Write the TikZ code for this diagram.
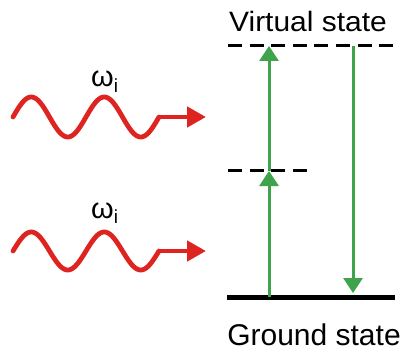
\documentclass[tikz,border=0pt]{standalone}
\usepackage{fontspec}
\setmainfont{Liberation Sans}
\usetikzlibrary{arrows.meta}
\definecolor{wavered}{RGB}{222,36,32}
\definecolor{transgreen}{RGB}{62,163,74}
\tikzset{
  wave/.style={wavered, line width=4.8pt, line join=round},
  wavehead/.style={-{Triangle[length=19pt,width=20pt]}},
  level/.style={line width=3pt, dash pattern=on 14pt off 7.6pt},
  ground/.style={line width=5pt},
  trans/.style={transgreen, line width=3pt, -{Triangle[length=15pt,width=19pt]}},
  lbl/.style={inner sep=0pt, anchor=base},
  omega/.style={inner sep=0pt, anchor=base west, font=\fontsize{29}{31}\selectfont}
}
\begin{document}
\begin{tikzpicture}[x=1pt,y=-1pt]
\useasboundingbox (0,0) rectangle (407,350);
% levels
\coordinate (vL) at (228,46);
\coordinate (vR) at (396,46);
\coordinate (mL) at (228,171);
\coordinate (mR) at (312,171);
\coordinate (gL) at (227,297);
\coordinate (gR) at (395,297);
\draw[level] (vL) -- (vR);
\draw[level] (mL) -- (mR);
\draw[ground] (gL) -- (gR);
% labels
\node[lbl] (vs) at (308,32) {\fontsize{28}{30}\selectfont\scalebox{1.07}[1]{Virtual state}};
\node[lbl] (gs) at (314,345) {\fontsize{30}{32}\selectfont Ground state};
% transitions
\coordinate (a0) at (269,297);
\coordinate (a1) at (269,171);
\coordinate (a2) at (269,46);
\coordinate (b0) at (353,46);
\coordinate (b1) at (353,293);
\draw[trans] (a0) -- (a1);
\draw[trans] (a1) -- (a2);
\draw[trans] (b0) -- (b1);
% waves
\coordinate (t0) at (159,117);
\coordinate (t1) at (206,117);
\coordinate (u0) at (159,251);
\coordinate (u1) at (206,251);
\draw[wave, line cap=round] plot[domain=13:159, samples=120, smooth] (\x, {117 - 20*sin((\x-13)/73*360)}) -- (t0);
\draw[wave, wavehead] (t0) -- (t1);
\draw[wave, line cap=round] plot[domain=13:159, samples=120, smooth] (\x, {251 - 19*sin((\x-13)/73*360)}) -- (u0);
\draw[wave, wavehead] (u0) -- (u1);
% omega labels
\node[omega] (w1) at (91,87) {ω\raisebox{-0.2em}{\fontsize{19}{20}\selectfont i}};
\node[omega] (w2) at (91,218) {ω\raisebox{-0.2em}{\fontsize{19}{20}\selectfont i}};
\end{tikzpicture}
\end{document}
